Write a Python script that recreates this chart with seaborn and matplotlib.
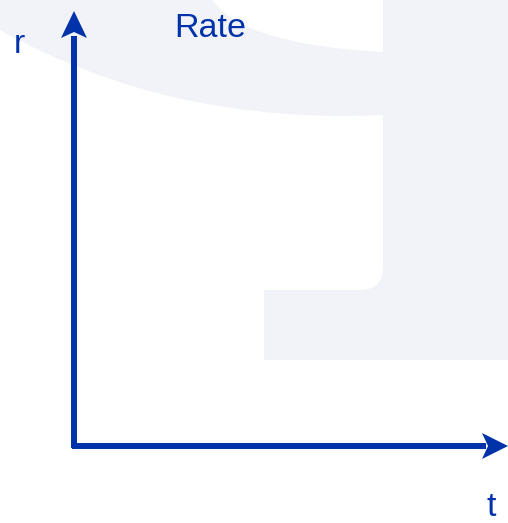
import matplotlib
matplotlib.use("Agg")
import matplotlib.pyplot as plt
import seaborn as sns
from matplotlib.patches import Polygon, PathPatch
from matplotlib.path import Path

# ---- chart content (no data series: empty coordinate diagram) ----
title = "Rate"
x_label = "t"
y_label = "r"
t_values = []
r_values = []

AXIS_BLUE = "#0033AA"
SHADE = "#F2F3F9"

sns.set_theme(style="white")
plt.rcParams['font.family'] = ['Liberation Sans', 'DejaVu Sans']

W, H = 508, 523
fig = plt.figure(figsize=(W / 100, H / 100), dpi=100)
ax = fig.add_axes([0, 0, 1, 1])
ax.set_xlim(0, W)
ax.set_ylim(H, 0)
ax.axis("off")

# faint watermark shape in background
M, L, C3, CL = Path.MOVETO, Path.LINETO, Path.CURVE3, Path.CLOSEPOLY
verts = [(0, 0), (212, 0),
         (245, 45), (383, 52),
         (383, 0), (508, 0), (508, 360), (264, 360), (264, 290), (360, 290),
         (383, 290), (383, 267),
         (383, 115),
         (170, 125), (0, 30),
         (0, 0)]
codes = [M, L,
         C3, C3,
         L, L, L, L, L, L,
         C3, C3,
         L,
         C3, C3,
         CL]
ax.add_patch(PathPatch(Path(verts, codes), facecolor=SHADE, edgecolor="none", zorder=0))

# empty data series (drawn through seaborn)
sns.lineplot(x=t_values, y=r_values, ax=ax)

# axes shafts
x0, y0 = 74, 446
ax.plot([x0, x0], [y0 + 2, 36], color=AXIS_BLUE, lw=4.3, solid_capstyle="butt", zorder=3)
ax.plot([x0 - 2, 486], [y0, y0], color=AXIS_BLUE, lw=4.3, solid_capstyle="butt", zorder=3)

# arrow heads
ax.add_patch(Polygon([(x0, 11), (x0 - 13, 38), (x0, 32), (x0 + 13, 38)], closed=True,
                     facecolor=AXIS_BLUE, edgecolor="none", zorder=4))
ax.add_patch(Polygon([(508, y0), (482, y0 - 13), (488, y0), (482, y0 + 13)], closed=True,
                     facecolor=AXIS_BLUE, edgecolor="none", zorder=4))

# labels
ax.text(174, 37, title, color=AXIS_BLUE, fontsize=24.5, ha="left", va="baseline")
ax.text(14, 53, y_label, color=AXIS_BLUE, fontsize=24.5, ha="left", va="baseline")
ax.text(491, 516, x_label, color=AXIS_BLUE, fontsize=24.5, ha="center", va="baseline")

fig.savefig("out.png", dpi=100, facecolor="white")
